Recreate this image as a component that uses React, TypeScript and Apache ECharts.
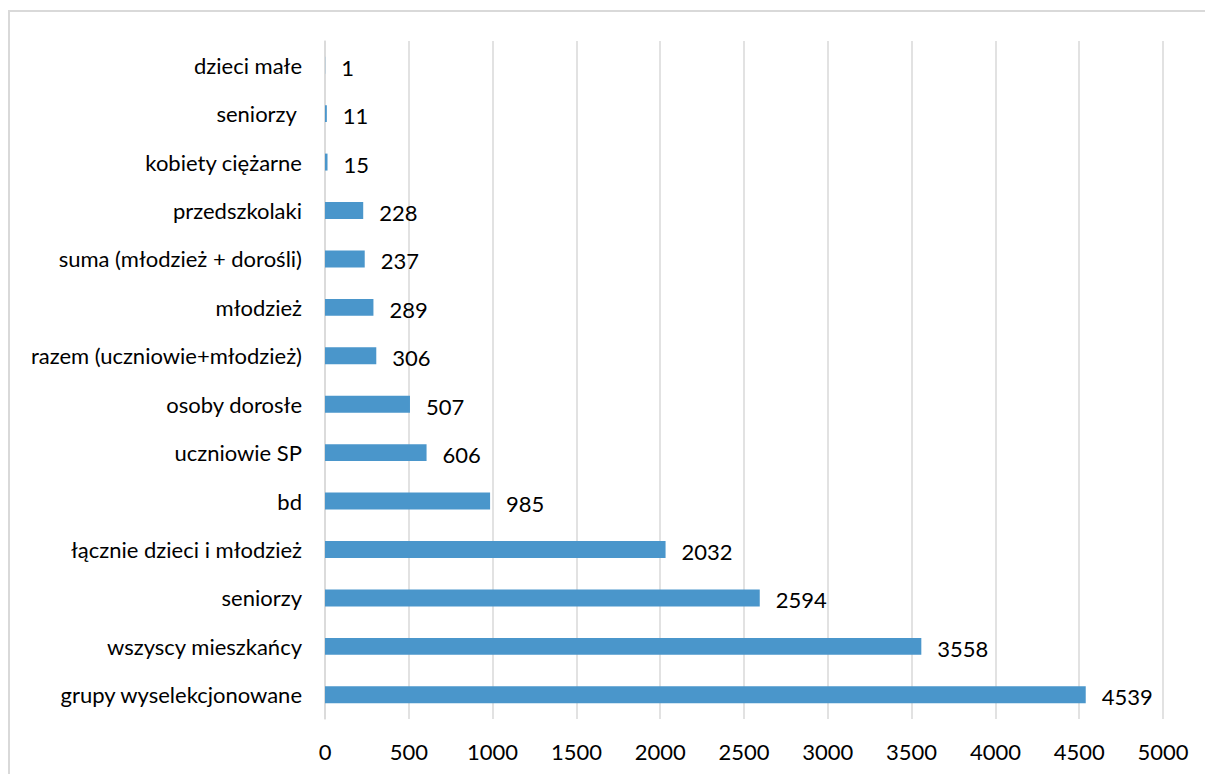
import React, { useEffect, useRef } from "react";
import * as echarts from "echarts";

const categories = [
  "grupy wyselekcjonowane",
  "wszyscy mieszkańcy",
  "seniorzy",
  "łącznie dzieci i młodzież",
  "bd",
  "uczniowie SP",
  "osoby dorosłe",
  "razem (uczniowie+młodzież)",
  "młodzież",
  "suma (młodzież + dorośli)",
  "przedszkolaki",
  "kobiety ciężarne",
  "seniorzy ",
  "dzieci małe",
];
const values = [4539, 3558, 2594, 2032, 985, 606, 507, 306, 289, 237, 228, 15, 11, 1];
const xMin = 0;
const xMax = 5000;
const xInterval = 500;

export default function App() {
  const ref = useRef<HTMLDivElement>(null);
  useEffect(() => {
    if (!ref.current) return;
    const chart = echarts.init(ref.current, null, { renderer: "svg" });
    const font = "Lato";
    const fs = 22;
    chart.setOption({
      animation: false,
      backgroundColor: "#ffffff",
      graphic: [
        {
          type: "rect",
          shape: { x: 9, y: 11, width: 1210, height: 800 },
          style: { fill: "none", stroke: "#d9d9d9", lineWidth: 2 },
          silent: true,
        },
      ],
      grid: { left: 325, right: 42, top: 41, bottom: 55, containLabel: false },
      xAxis: {
        type: "value",
        min: xMin,
        max: xMax,
        interval: xInterval,
        axisLine: { show: false },
        axisTick: { show: false },
        splitLine: { show: true, lineStyle: { color: "#d9d9d9", width: 1.5 } },
        axisLabel: {
          color: "#000",
          fontFamily: font,
          fontSize: fs,
          margin: 21,
          formatter: (v: number) => String(v),
        },
      },
      yAxis: {
        type: "category",
        data: categories,
        axisLine: { show: true, lineStyle: { color: "#d9d9d9", width: 1.5 } },
        axisTick: { show: false },
        axisLabel: { color: "#000", fontFamily: font, fontSize: fs, margin: 23 },
      },
      series: [
        {
          type: "bar",
          data: values,
          barCategoryGap: "65%",
          itemStyle: { color: "#4a96cb" },
          label: {
            show: true,
            position: "right",
            distance: 16,
            color: "#000",
            fontFamily: font,
            fontSize: fs,
            offset: [0, 2],
          },
        },
      ],
    });
    return () => chart.dispose();
  }, []);
  return (
    <div
      ref={ref}
      style={{ position: "fixed", left: 0, top: 0, width: 1205, height: 774 }}
    />
  );
}
